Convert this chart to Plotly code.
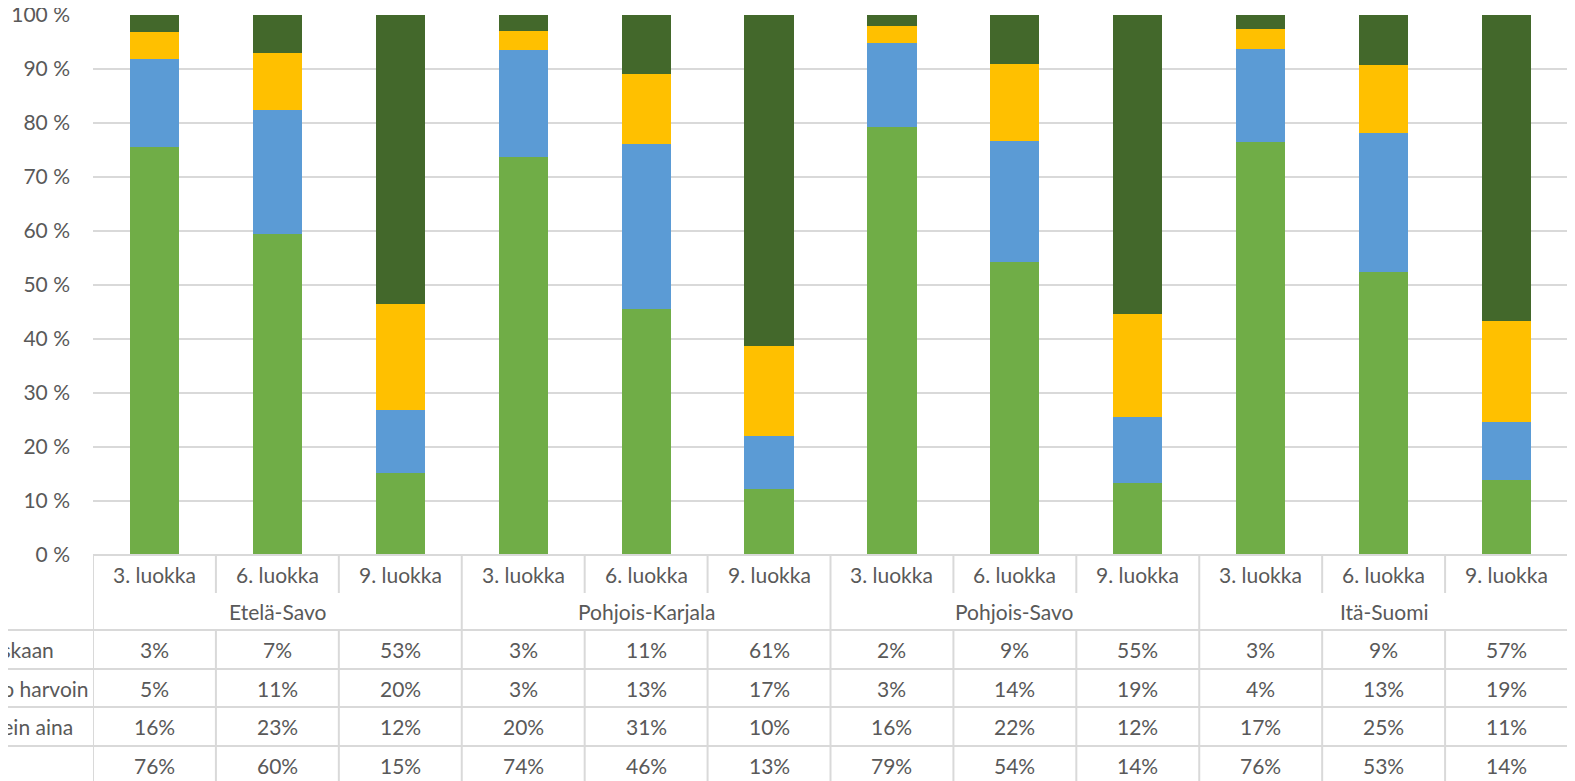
import plotly.graph_objects as go

# ---- data ----
groups = ["Etelä-Savo", "Pohjois-Karjala", "Pohjois-Savo", "Itä-Suomi"]
grades = ["3. luokka", "6. luokka", "9. luokka"]
row_labels = ["Ei koskaan", "Melko harvoin", "Melkein aina", "Aina"]  # table order (top -> bottom)

# bar values (% of pupils)
aina = [75.5, 59.5, 15.1, 73.6, 45.5, 12.3, 79.2, 54.3, 13.4, 76.4, 52.4, 13.9]
melkein_aina = [16.3, 22.8, 11.7, 19.9, 30.5, 9.8, 15.6, 22.3, 12.1, 17.3, 25.7, 10.8]
melko_harvoin = [5.0, 10.6, 19.7, 3.5, 13.0, 16.6, 3.2, 14.3, 19.1, 3.7, 12.6, 18.6]
ei_koskaan = [3.2, 7.1, 53.5, 3.0, 11.0, 61.3, 2.0, 9.1, 55.4, 2.6, 9.3, 56.7]

# data table values (as printed)
tbl_ei_koskaan = [3, 7, 53, 3, 11, 61, 2, 9, 55, 3, 9, 57]
tbl_melko_harvoin = [5, 11, 20, 3, 13, 17, 3, 14, 19, 4, 13, 19]
tbl_melkein_aina = [16, 23, 12, 20, 31, 10, 16, 22, 12, 17, 25, 11]
tbl_aina = [76, 60, 15, 74, 46, 13, 79, 54, 14, 76, 53, 14]

y_ticks = list(range(0, 101, 10))
y_tick_text = [f"{v} %" for v in y_ticks]

# ---- styling ----
OFF = 8                      # page body margin
W, H = 1575 - OFF, 781 - OFF
FONT = "Lato"
FS = 21
TXT = "#595959"
GRID = "#D9D9D9"
colors = {"Aina": "#70AD47", "Melkein aina": "#5B9BD5",
          "Melko harvoin": "#FFC000", "Ei koskaan": "#43682B"}

PLOT_L, PLOT_R = 93, 1568
PLOT_T, PLOT_B = 14.7, 555


def py(p):
    return 1 - (p - OFF) / H


def px(p):
    return (p - OFF) / W


n = len(groups) * len(grades)
xs = list(range(n))

fig = go.Figure()
for name, vals in [("Aina", aina), ("Melkein aina", melkein_aina),
                   ("Melko harvoin", melko_harvoin), ("Ei koskaan", ei_koskaan)]:
    fig.add_trace(go.Bar(x=xs, y=vals, name=name, marker_color=colors[name],
                         marker_line_width=0, width=0.4))

shapes = []
annotations = []

# horizontal table lines
shapes.append(dict(type="line", xref="paper", yref="paper", x0=px(PLOT_L), x1=px(PLOT_R),
                   y0=py(PLOT_B), y1=py(PLOT_B), line=dict(color=GRID, width=2)))
for yy in [630, 669, 707, 746, 785]:
    shapes.append(dict(type="line", xref="paper", yref="paper", x0=px(-60), x1=px(PLOT_R),
                       y0=py(yy), y1=py(yy), line=dict(color=GRID, width=2)))
# vertical table lines
for k in range(n + 1):
    xv = k - 0.5
    if k % 3 == 0:
        segs = [(PLOT_B, 790)]
    else:
        segs = [(PLOT_B, 593), (630, 790)]
    for a, b in segs:
        shapes.append(dict(type="line", xref="x", yref="paper", x0=xv, x1=xv,
                           y0=py(a), y1=py(b), line=dict(color=GRID, width=2)))

# category + group labels
for i in xs:
    annotations.append(dict(x=i, y=py(574), xref="x", yref="paper", text=grades[i % 3],
                            showarrow=False, xanchor="center", yanchor="middle"))
for g, gname in enumerate(groups):
    annotations.append(dict(x=g * 3 + 1, y=py(611), xref="x", yref="paper", text=gname,
                            showarrow=False, xanchor="center", yanchor="middle"))

# data rows (row labels are partly cut off at the left edge, as in the original)
rows = [tbl_ei_koskaan, tbl_melko_harvoin, tbl_melkein_aina, tbl_aina]
row_y = [649.5, 688, 726.5, 765]
for r, (lab, vals) in enumerate(zip(row_labels, rows)):
    annotations.append(dict(x=px(-45), y=py(row_y[r]), xref="paper", yref="paper",
                            text=lab, showarrow=False, xanchor="left", yanchor="middle"))
    for i, v in enumerate(vals):
        annotations.append(dict(x=i, y=py(row_y[r]), xref="x", yref="paper", text=f"{v}%",
                                showarrow=False, xanchor="center", yanchor="middle"))

fig.update_layout(
    width=W, height=H,
    margin=dict(l=0, r=0, t=0, b=0, autoexpand=False),
    paper_bgcolor="white", plot_bgcolor="white",
    barmode="stack",
    showlegend=False,
    font=dict(family=FONT, size=FS, color=TXT),
    shapes=shapes,
    annotations=annotations,
    xaxis=dict(domain=[px(PLOT_L), px(PLOT_R)], range=[-0.5, n - 0.5], automargin=False,
               showticklabels=False, showgrid=False, zeroline=False, showline=False),
    yaxis=dict(domain=[py(PLOT_B), py(PLOT_T)], range=[0, 100], automargin=False,
               tickmode="array", tickvals=y_ticks, ticktext=y_tick_text,
               ticklabeloverflow="allow",
               showgrid=True, gridcolor=GRID, gridwidth=2,
               zeroline=False, showline=False, ticks="", ticklabelstandoff=22,
               tickfont=dict(family=FONT, size=FS, color=TXT)),
)

fig.write_html("out.html")
